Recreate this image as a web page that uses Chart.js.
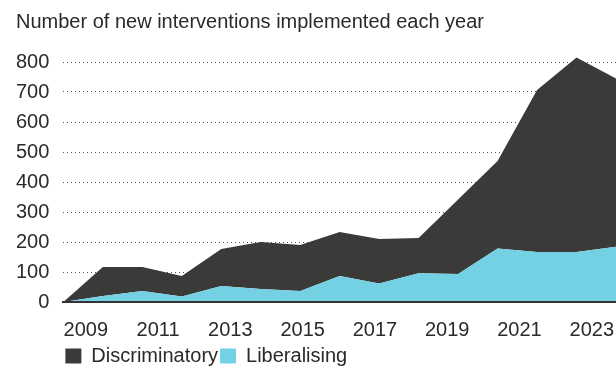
<!DOCTYPE html>
<html lang="en">
<head>
    <meta charset="UTF-8">
    <title>New interventions implemented each year</title>
    <script src="https://cdn.jsdelivr.net/npm/chart.js"></script>
    <style>
        body { margin: 0; background: #fff; }
        canvas { display: block; }
    </style>
</head>
<body>
    <canvas id="chart" width="616" height="367"></canvas>

    <script>
        const years = ['2009', '2010', '2011', '2012', '2013', '2014', '2015', '2016',
                       '2017', '2018', '2019', '2020', '2021', '2022', '2023'];
        const liberalising = [0, 20, 37, 18, 53, 43, 37, 87, 62, 96, 93, 178, 167, 167, 184];
        const discriminatory = [0, 97, 80, 69, 124, 157, 153, 146, 148, 117, 249, 292, 540, 648, 561];
        const yearTicks = [2009, 2011, 2013, 2015, 2017, 2019, 2021, 2023];

        const font = { family: '"Liberation Sans", Arial, sans-serif', size: 20 };
        const ctx = document.getElementById('chart').getContext('2d');

        new Chart(ctx, {
            type: 'line',
            data: {
                labels: years,
                datasets: [{
                    label: 'Liberalising',
                    data: liberalising,
                    backgroundColor: '#74d0e3',
                    borderWidth: 0,
                    pointRadius: 0,
                    fill: 'origin'
                }, {
                    label: 'Discriminatory',
                    data: discriminatory,
                    backgroundColor: '#3a3b39',
                    borderWidth: 0,
                    pointRadius: 0,
                    fill: '-1'
                }]
            },
            options: {
                responsive: false,
                animation: false,
                layout: { padding: { left: 16, right: 0, bottom: 0 } },
                plugins: {
                    title: {
                        display: true,
                        text: 'Number of new interventions implemented each year',
                        align: 'start',
                        color: '#2a2a2a',
                        font: { ...font, weight: 'normal' },
                        padding: { top: 10, bottom: 19 }
                    },
                    legend: {
                        position: 'bottom',
                        align: 'start',
                        fullSize: false,
                        reverse: true,
                        maxHeight: 23,
                        labels: {
                            color: '#2a2a2a',
                            font: font,
                            boxWidth: 16,
                            boxHeight: 15,
                            padding: 2
                        }
                    },
                    tooltip: { enabled: false }
                },
                scales: {
                    x: { display: false, offset: false },
                    // year labels sit on their own axis, spread evenly under the plot
                    x2: {
                        type: 'linear',
                        position: 'bottom',
                        min: 2008.38,
                        max: 2023.67,
                        afterBuildTicks: axis => {
                            axis.ticks = yearTicks.map(v => ({ value: v }));
                        },
                        afterFit: axis => { axis.height += 2; },
                        grid: { display: false, drawTicks: true, tickLength: 16 },
                        border: { display: true, color: '#333', width: 2, z: 1 },
                        ticks: {
                            color: '#2a2a2a',
                            font: font,
                            padding: 0,
                            autoSkip: false,
                            maxRotation: 0,
                            callback: v => String(v)
                        }
                    },
                    y: {
                        stacked: true,
                        min: 0,
                        max: 830,
                        afterFit: axis => { axis.width -= axis.options.ticks.padding; },
                        grid: { color: '#555', lineWidth: 1, drawTicks: false },
                        border: { display: false, dash: [1, 3] },
                        ticks: {
                            stepSize: 100,
                            includeBounds: false,
                            color: '#2a2a2a',
                            font: font,
                            padding: 14
                        }
                    }
                }
            }
        });
    </script>
</body>
</html>
